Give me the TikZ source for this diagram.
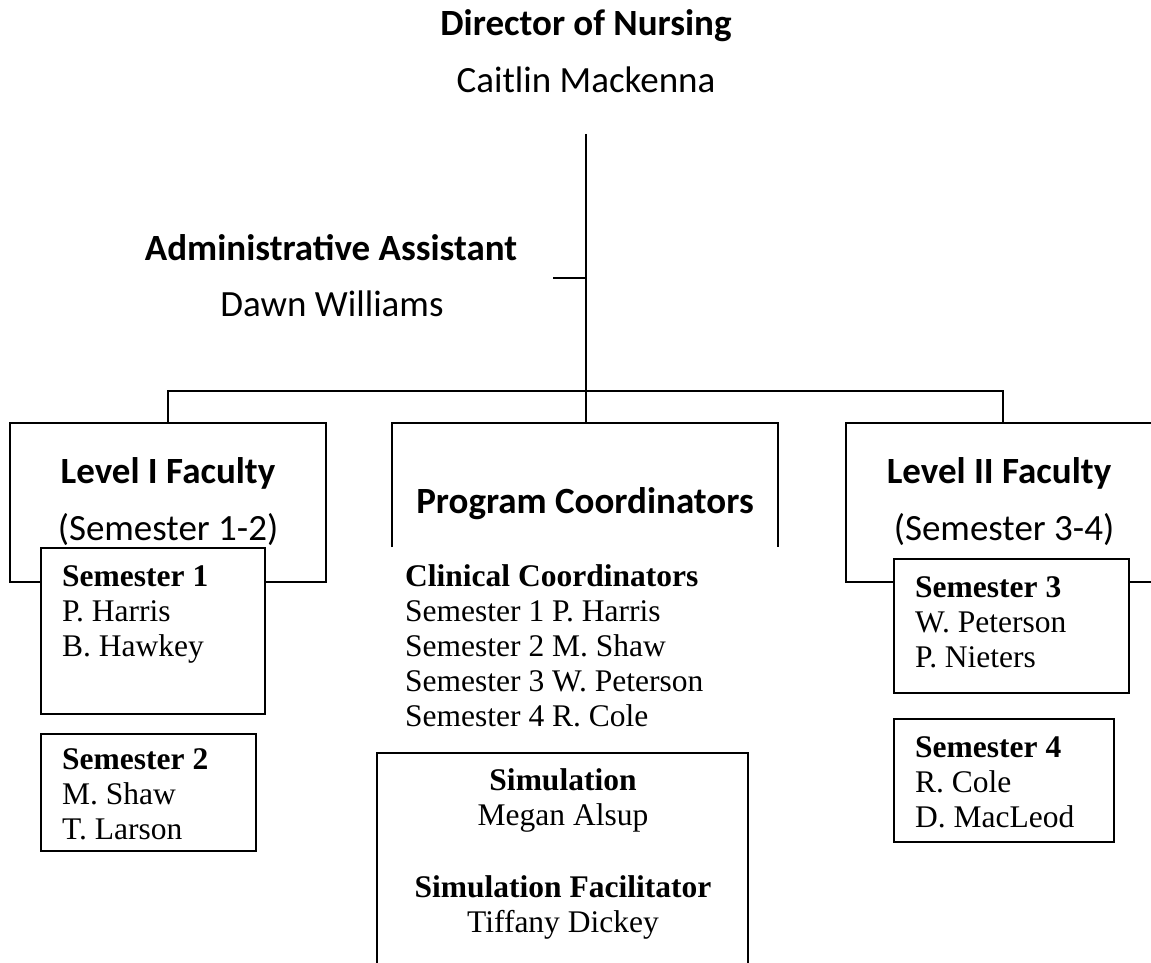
\documentclass[tikz,border=0pt]{standalone}
\usepackage{fontspec}
\setmainfont{Liberation Serif}
\newfontfamily\calibri{Carlito}
\usetikzlibrary{positioning,calc}
\tikzset{
    every picture/.style={line cap=butt,line join=miter},
    orgline/.style={draw=black,line width=2.6pt},
    unitbox/.style={draw=black,fill=white,line width=2.6pt,inner sep=0pt,
      outer sep=0pt,anchor=north west},
    sembox/.style={draw=black,fill=white,line width=1.8pt,inner sep=0pt,
      outer sep=0pt,anchor=north west},
    headtitle/.style={font=\calibri\bfseries\fontsize{37}{44}\selectfont,
      inner sep=0pt,anchor=base},
    headname/.style={font=\calibri\fontsize{37}{44}\selectfont,
      inner sep=0pt,anchor=base},
    semtext/.style={font=\fontsize{31.5}{35}\selectfont,align=left,
      inner sep=0pt,anchor=north west}
}
\begin{document}
\begin{tikzpicture}[x=1pt,y=-1pt]
  \useasboundingbox (0,0) rectangle (1151,963);
  \clip (0,0) rectangle (1151,963);
  % top of the chart
  \node[headtitle] (dirtitle) at (586,36) {Director of Nursing};
  \node[headname] (dirname) at (586,93) {Caitlin Mackenna};
  \node[headtitle] (asttitle) at (331,260) {Administrative Assistant};
  \node[headname] (astname) at (332,316) {Dawn Williams};
  \coordinate (dirfoot) at (586,134);
  \coordinate (astjoin) at (553,278);
  \coordinate (busleft) at (168,391);
  \coordinate (busright) at (1003,391);
  % three units
  \node[unitbox,minimum width=316pt,minimum height=159pt] (lvlone) at (10,423) {};
  \node[unitbox,minimum width=314pt,minimum height=159pt] (lvltwo) at (846,423) {};
  \coordinate (pctop) at (585,423);
  \coordinate (pcleft) at (392,547);
  \coordinate (pcright) at (778,547);
  \draw[orgline] (pcleft) |- (pctop) -| (pcright);
  \draw[orgline] (dirfoot) -- (dirfoot |- pctop);
  \draw[orgline] (astjoin) -- (astjoin -| dirfoot);
  \draw[orgline] (lvlone.north) |- (busleft) -- (busright) -| (lvltwo.north);
  \node[headtitle] (lvlonetitle) at (168,483) {Level I Faculty};
  \node[headname] (lvlonesub) at (168,540) {(Semester 1-2)};
  \node[headtitle] (pctitle) at (585,513) {Program Coordinators};
  \node[headtitle] (lvltwotitle) at (999,483) {Level II Faculty};
  \node[headname] (lvltwosub) at (1004,540) {(Semester 3-4)};
  % semester boxes
  \node[sembox,minimum width=224pt,minimum height=166pt] (semone) at (41,548) {};
  \node[semtext] at (62,565.5) {\textbf{Semester 1}\\P. Harris\\B. Hawkey};
  \node[sembox,minimum width=215pt,minimum height=117pt] (semtwo) at (41,734) {};
  \node[semtext] at (62,748.5) {\textbf{Semester 2}\\M. Shaw\\T. Larson};
  \node[sembox,minimum width=235pt,minimum height=134pt] (semthree) at (894,559) {};
  \node[semtext] at (915,576.5) {\textbf{Semester 3}\\W. Peterson\\P. Nieters};
  \node[sembox,minimum width=220pt,minimum height=123pt] (semfour) at (894,719) {};
  \node[semtext] at (915,736.5) {\textbf{Semester 4}\\R. Cole\\D. MacLeod};
  % coordinators and simulation
  \node[semtext] (clinical) at (405,564.5) {\textbf{Clinical Coordinators}\\
    Semester 1 P. Harris\\Semester 2 M. Shaw\\Semester 3 W. Peterson\\
    Semester 4 R. Cole};
  \node[sembox,minimum width=371pt,minimum height=240pt] (sim) at (377,753) {};
  \node[semtext,align=center,anchor=north] at (563,768.5)
    {\textbf{Simulation}\\Megan Alsup\\[37pt]\textbf{Simulation Facilitator}\\
    Tiffany Dickey};
\end{tikzpicture}
\end{document}
